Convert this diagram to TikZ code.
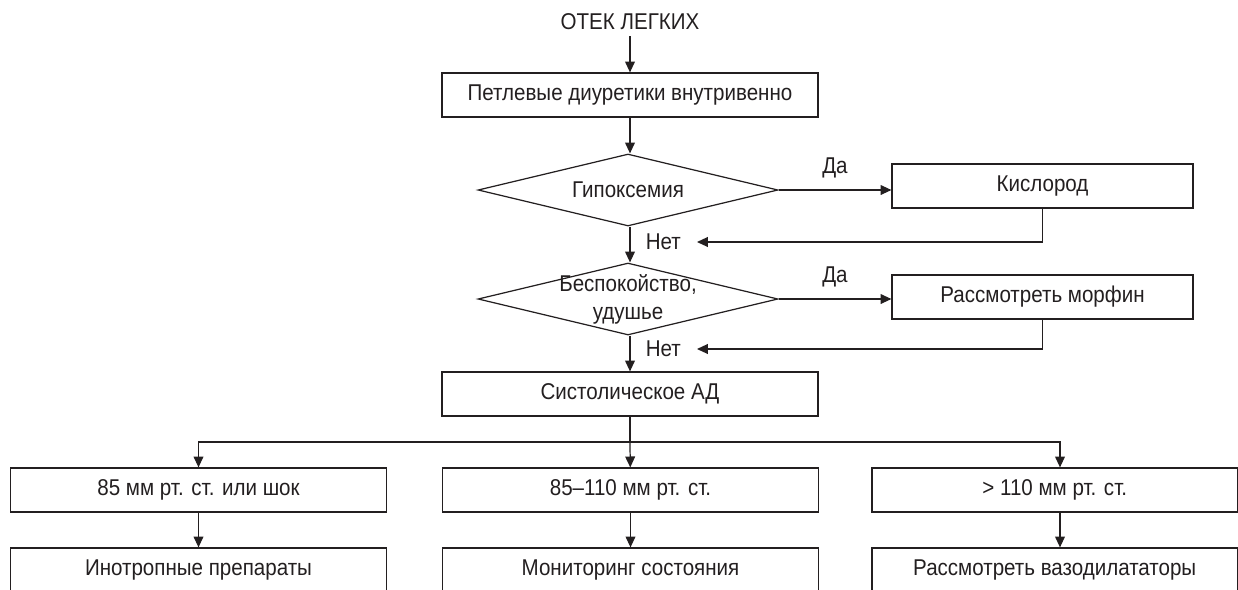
\documentclass[tikz,border=0pt]{standalone}
\usepackage{fontspec}
\setmainfont[FakeStretch=0.9]{Liberation Sans}
\usetikzlibrary{arrows.meta,shapes.geometric,positioning}
\definecolor{ink}{RGB}{35,31,32}

\begin{document}
\begin{tikzpicture}[x=0.02cm,y=-0.02cm,color=ink,
    font=\fontsize{13}{16}\selectfont,
    box/.style={draw,rectangle,minimum width=7.52cm,minimum height=0.88cm,inner sep=0pt,line width=0.7pt},
    sidebox/.style={box,minimum width=6.02cm},
    decision/.style={draw,diamond,aspect=4.17,minimum width=6cm,minimum height=1.44cm,
                     inner xsep=0pt,inner ysep=-0.3cm,align=center,line width=0.7pt},
    arr/.style={line width=0.7pt,-{Triangle[length=6.2pt,width=5.6pt]}},
    link/.style={line width=0.7pt}]

   \clip (0,0) rectangle (1238,589);

   % Start
   \node (edema) at (630,22) {ОТЕК ЛЕГКИХ};
   \node[box] (diur) at (630,95) {Петлевые диуретики внутривенно};
   \draw[arr] (edema) -- (diur);

   % Questions
   \node[decision] (hyp) at (628,190) {Гипоксемия};
   \node[sidebox] (oxy) at (1042.5,186) {Кислород};
   \node[decision] (anx) at (628,299) {Беспокойство,\\удушье};
   \node[sidebox] (morph) at (1042.5,297) {Рассмотреть морфин};

   \draw[arr] (diur) -- (diur |- hyp.north);
   \draw[arr] (hyp.east) -- node[above=3pt] (hypyes) {Да} (hyp.east -| oxy.west);
   \coordinate (hypno) at (697,242);
   \draw[arr] (oxy.south) |- (hypno);
   \node[left=0.2cm of hypno] (hypnotxt) {Нет};

   \draw[arr] (diur |- hyp.south) -- (diur |- anx.north);
   \draw[arr] (anx.east) -- node[above=3pt] (anxyes) {Да} (anx.east -| morph.west);
   \coordinate (anxno) at (697,349);
   \draw[arr] (morph.south) |- (anxno);
   \node[left=0.2cm of anxno] (anxnotxt) {Нет};

   \node[box] (sys) at (630,394) {Систолическое АД};
   \draw[arr] (diur |- anx.south) -- (sys);

   % Pressure ranges
   \coordinate (split) at (630,442);
   \node[box] (lo) at (198.5,490) {85 мм рт. ст. или шок};
   \node[box] (mid) at (630.5,490) {85–110 мм рт. ст.};
   \node[box,minimum width=7.31cm] (hi) at (1054.75,490) {> 110 мм рт. ст.};

   \draw[link] (sys) -- (split);
   \draw[arr] (split) -- (mid);
   \draw[arr] (split) -| (lo);
   \draw[arr] (split) -| ([xshift=0.105cm]hi.north);

   % Treatment
   \node[box] (ino) at (198.5,570) {Инотропные препараты};
   \node[box] (mon) at (630.5,570) {Мониторинг состояния};
   \node[box,minimum width=7.31cm] (vaso) at (1054.75,570) {Рассмотреть вазодилататоры};

   \foreach \a/\b in {lo/ino,mid/mon}
       \draw[arr] (\a) -- (\b);
   \draw[arr] ([xshift=0.105cm]hi.south) -- ([xshift=0.105cm]vaso.north);

\end{tikzpicture}
\end{document}
